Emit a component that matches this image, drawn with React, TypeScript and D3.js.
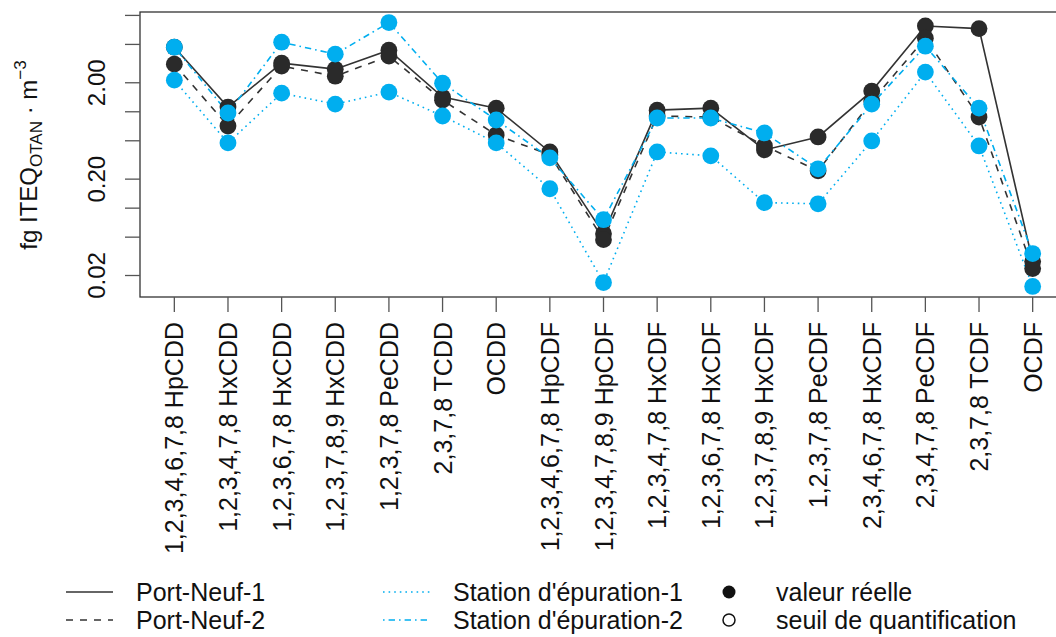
import React from "react";
import * as d3 from "d3";

const categories = [
  "1,2,3,4,6,7,8 HpCDD", "1,2,3,4,7,8 HxCDD", "1,2,3,6,7,8 HxCDD", "1,2,3,7,8,9 HxCDD",
  "1,2,3,7,8 PeCDD", "2,3,7,8 TCDD", "OCDD", "1,2,3,4,6,7,8 HpCDF", "1,2,3,4,7,8,9 HpCDF",
  "1,2,3,4,7,8 HxCDF", "1,2,3,6,7,8 HxCDF", "1,2,3,7,8,9 HxCDF", "1,2,3,7,8 PeCDF",
  "2,3,4,6,7,8 HxCDF", "2,3,4,7,8 PeCDF", "2,3,7,8 TCDF", "OCDF",
];

const portNeuf1 = [4.68, 1.12, 3.2, 2.77, 4.36, 1.42, 1.09, 0.383, 0.0544, 1.04, 1.09, 0.402, 0.548, 1.64, 7.77, 7.3, 0.0279];
const portNeuf2 = [3.12, 0.712, 2.98, 2.34, 3.78, 1.32, 0.575, 0.357, 0.0471, 0.904, 0.882, 0.442, 0.244, 1.29, 5.8, 0.882, 0.0236];
const station1 = [2.13, 0.475, 1.56, 1.2, 1.6, 0.904, 0.475, 0.159, 0.0169, 0.383, 0.349, 0.114, 0.111, 0.498, 2.58, 0.442, 0.0154];
const station2 = [4.68, 0.971, 5.27, 3.96, 8.43, 1.98, 0.822, 0.332, 0.0759, 0.862, 0.862, 0.603, 0.256, 1.2, 4.79, 1.09, 0.0338];

const seriesNames = ["Port-Neuf-1", "Port-Neuf-2", "Station d'épuration-1", "Station d'épuration-2"];
const yTicks = [0.02, 0.05, 0.1, 0.2, 0.5, 1, 2, 5, 10];
const yLabelTicks = [0.02, 0.2, 2];
const yLabelTexts = ["0.02", "0.20", "2.00"];
const pointLegend = ["valeur réelle", "seuil de quantification"];

const BLACK = "#2a2a2a";
const BLUE = "#00aeef";
const FONT = "'Liberation Sans', Arial, Helvetica, sans-serif";

export default function App() {
  const W = 1056, H = 637;
  const left = 140, right = 1067, top = 12, bottom = 297;
  const seriesValues = [portNeuf1, portNeuf2, station1, station2];
  const styles = [
    { color: "#333333", dash: null, pt: BLACK },
    { color: "#333333", dash: "7 7", pt: BLACK },
    { color: BLUE, dash: "1.6 4", pt: BLUE },
    { color: BLUE, dash: "1.6 4 6.4 4", pt: BLUE },
  ];

  const all = seriesValues.flat();
  const lmin = Math.log10(d3.min(all) as number);
  const lmax = Math.log10(d3.max(all) as number);
  const ext = (lmax - lmin) * 0.04;
  const y = d3.scaleLog().domain([10 ** (lmin - ext), 10 ** (lmax + ext)]).range([bottom, top]);
  const n = categories.length;
  const xExt = (n - 1) * 0.04;
  const x = d3.scaleLinear().domain([-xExt, n - 1 + xExt]).range([left, right]);

  const line = d3.line<number>().x((_, i) => x(i)).y((v) => y(v));

  return (
    <svg width={W} height={H} style={{ position: "absolute", left: 0, top: 0 }} fontFamily={FONT}>
      <rect x={0} y={0} width={W} height={H} fill="#fff" />
      {seriesValues.map((vals, s) => (
        <path key={"l" + s} d={line(vals) || ""} fill="none" stroke={styles[s].color}
          strokeWidth={1.6} strokeDasharray={styles[s].dash || undefined} />
      ))}
      {seriesValues.map((vals, s) => (
        <g key={"p" + s}>
          {vals.map((v, i) => (
            <circle key={i} cx={x(i)} cy={y(v)} r={8.4} fill={styles[s].pt} />
          ))}
        </g>
      ))}
      <rect x={left} y={top} width={right - left} height={bottom - top} fill="none" stroke="#333" strokeWidth={1.3} />
      {yTicks.map((t) => (
        <line key={"yt" + t} x1={left - 15} x2={left} y1={y(t)} y2={y(t)} stroke="#555" strokeWidth={1.3} />
      ))}
      {yLabelTicks.map((t, i) => (
        <text key={"yl" + t} transform={`translate(${105},${y(t)}) rotate(-90)`} textAnchor="middle"
          fontSize={24} fill="#111">{yLabelTexts[i]}</text>
      ))}
      <text transform={`translate(37,155) rotate(-90)`} textAnchor="middle" fontSize={24} fill="#111">
        fg ITEQ<tspan fontSize={17} dy={5}>OTAN</tspan><tspan dy={-5}> · m</tspan>
        <tspan fontSize={17} dy={-11}>−3</tspan>
      </text>
      {categories.map((c, i) => (
        <g key={"xt" + i}>
          <line x1={x(i)} x2={x(i)} y1={bottom} y2={bottom + 15} stroke="#555" strokeWidth={1.3} />
          <text transform={`translate(${x(i)},${322}) rotate(-90)`} textAnchor="end" dy="0.36em"
            fontSize={25} fill="#111">{c}</text>
        </g>
      ))}
      {seriesNames.map((name, s) => {
        const col = Math.floor(s / 2);
        const row = s % 2;
        const lx = col === 0 ? 66 : 383;
        const ly = 592 + row * 28;
        return (
          <g key={"lg" + s}>
            <line x1={lx} x2={lx + 47} y1={ly} y2={ly} stroke={styles[s].color} strokeWidth={1.6}
              strokeDasharray={styles[s].dash || undefined} />
            <text x={lx + 70} y={ly} dy="0.36em" fontSize={25} fill="#111">{name}</text>
          </g>
        );
      })}
      {pointLegend.map((name, r) => {
        const ly = 592 + r * 28;
        return (
          <g key={"pl" + r}>
            {r === 0 ? (
              <circle cx={729} cy={ly} r={6.5} fill="#111" />
            ) : (
              <circle cx={729} cy={ly} r={6} fill="none" stroke="#111" strokeWidth={1.5} />
            )}
            <text x={776} y={ly} dy="0.36em" fontSize={25} fill="#111">{name}</text>
          </g>
        );
      })}
    </svg>
  );
}
